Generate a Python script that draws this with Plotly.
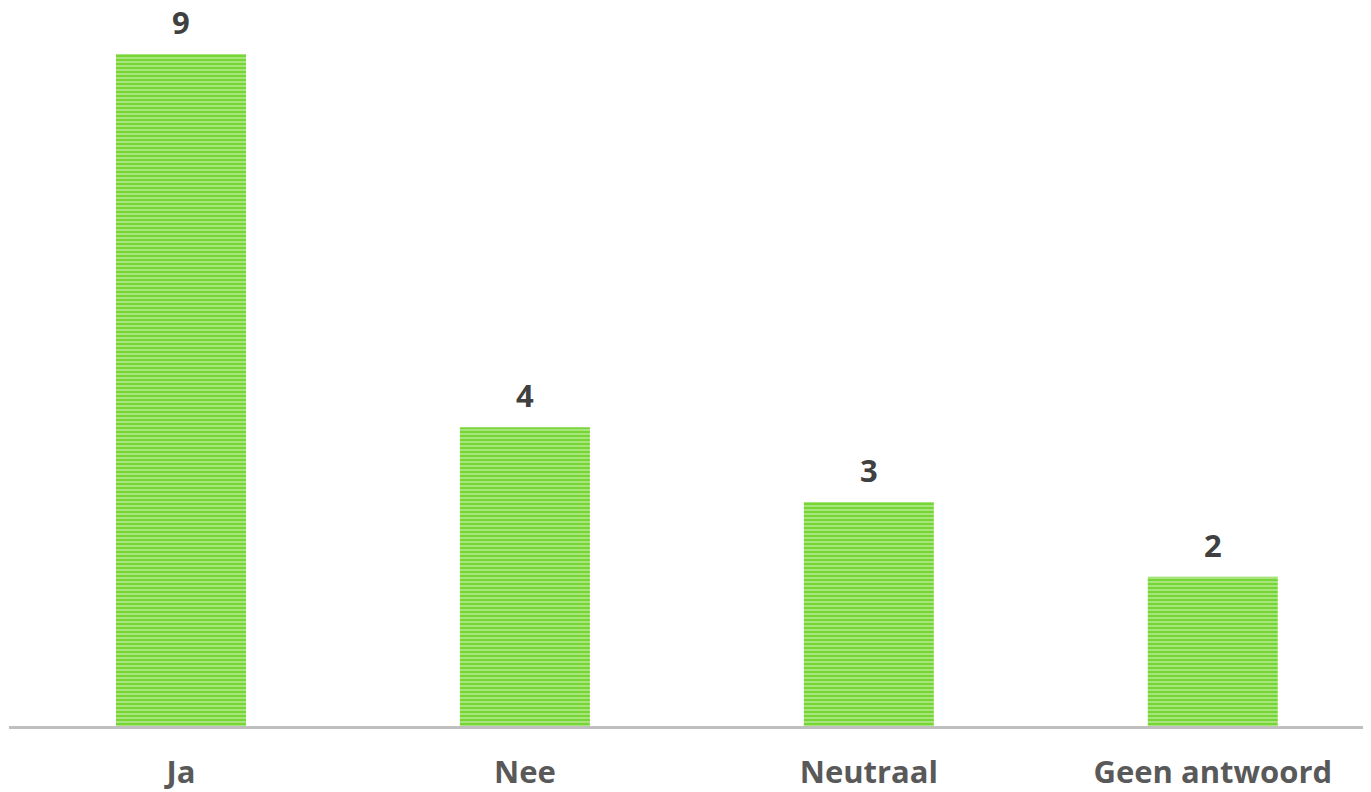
import plotly.graph_objects as go

categories = ["Ja", "Nee", "Neutraal", "Geen antwoord"]
values = [9, 4, 3, 2]

fig = go.Figure()
fig.add_trace(go.Bar(
    x=categories, y=values,
    width=0.378,
    marker=dict(
        color="#76D635",
        line=dict(width=0),
        pattern=dict(shape="-", fgcolor="#E2F6D4", bgcolor="#76D635", size=4, solidity=0.45, fillmode="overlay"),
    ),
    hoverinfo="skip",
))

for c, v in zip(categories, values):
    fig.add_annotation(x=c, y=v, text=f"<b>{v}</b>", showarrow=False, yanchor="bottom", yshift=10,
                       borderpad=0, font=dict(family="Open Sans", size=31, color="#404040"))

# page body has an 8px default margin, so the figure is sized/offset to compensate
fig.update_layout(
    width=1363, height=784,
    margin=dict(l=1, r=0, t=0, b=66),
    plot_bgcolor="white", paper_bgcolor="white",
    showlegend=False,
    xaxis=dict(range=[-0.5, 3.46], showline=True, linecolor="#BFBFBF", linewidth=3,
               ticks="", showgrid=False, ticklabelstandoff=17, automargin=False,
               tickfont=dict(family="Open Sans", size=31, color="#595959", weight="bold")),
    yaxis=dict(range=[0, 9.616], visible=False, showgrid=False, automargin=False),
)
fig.write_html("out.html")
